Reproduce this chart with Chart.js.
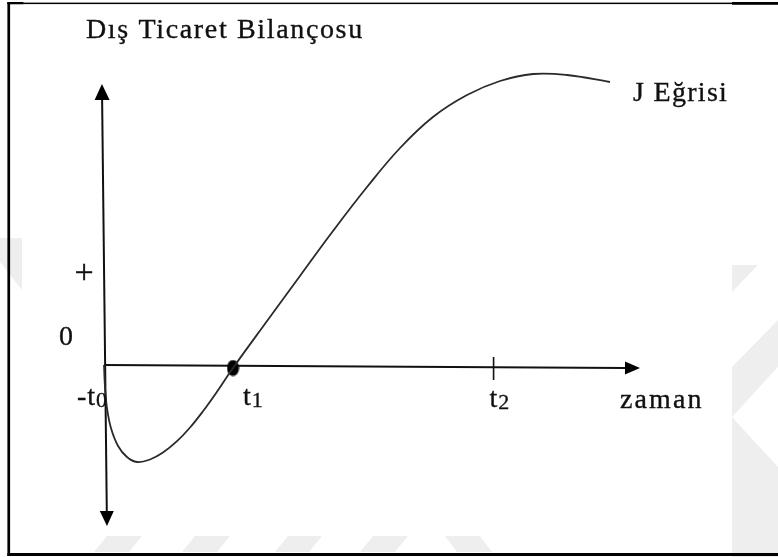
<!DOCTYPE html>
<html><head><meta charset="utf-8">
<script src="https://cdn.jsdelivr.net/npm/chart.js@4"></script>
<style>html,body{margin:0;padding:0;background:#fff;overflow:hidden}canvas{display:block}</style>
</head><body>
<canvas id="c" width="778" height="557"></canvas>
<script>
// ---- data (time units: t1 = 1; balance units arbitrary) ----
const curveX = [0, 0.008, 0.023, 0.054, 0.109, 0.178, 0.256, 0.357, 0.457, 0.566, 0.667, 0.767, 0.868, 1.0, 1.264, 1.519, 1.775, 2.039, 2.295, 2.550, 2.814, 3.070, 3.326, 3.589, 3.922];
const curveY = [0, -0.23, -0.43, -0.63, -0.81, -0.92, -0.97, -0.945, -0.876, -0.762, -0.625, -0.463, -0.282, -0.03, 0.44, 0.89, 1.34, 1.78, 2.17, 2.48, 2.70, 2.84, 2.91, 2.90, 2.83];
const t1Point = [1.0, -0.03];
const t2Value = 3.02;
const yAxisXs = [-0.016, 0.023];      // axis x at top tip, bottom tip
const yAxisTips = [2.81, -1.61];       // top tip, bottom tip
const xAxisEnd = [4.155, -0.03];       // arrow tip of time axis
const tickNames = ['-t', 't', 't'];
const tickSubs = ['0', '1', '2'];
const yTickLabels = ['+', '0'];
const titleText = 'Dış Ticaret Bilançosu';
const curveLabel = 'J Eğrisi';
const xAxisLabel = 'zaman';

// ellipse marker for t1
const dotCanvas = document.createElement('canvas');
dotCanvas.width = 13; dotCanvas.height = 17;
(function(){const g=dotCanvas.getContext('2d');g.fillStyle='#000';g.beginPath();g.ellipse(6.5,8.5,6,8,0,0,Math.PI*2);g.fill();})();

const FONT = '"Liberation Serif", "Times New Roman", serif';

function arrow(ctx, x1, y1, x2, y2, len, hw) {
  const a = Math.atan2(y2 - y1, x2 - x1);
  const bx = x2 - len * Math.cos(a), by = y2 - len * Math.sin(a);
  ctx.beginPath(); ctx.moveTo(x1, y1); ctx.lineTo(bx, by); ctx.stroke();
  ctx.beginPath();
  ctx.moveTo(x2, y2);
  ctx.lineTo(bx + hw * Math.sin(a), by - hw * Math.cos(a));
  ctx.lineTo(bx - hw * Math.sin(a), by + hw * Math.cos(a));
  ctx.closePath(); ctx.fill();
}

function poly(ctx, pts){ctx.beginPath();ctx.moveTo(pts[0][0],pts[0][1]);for(let i=1;i<pts.length;i++)ctx.lineTo(pts[i][0],pts[i][1]);ctx.closePath();ctx.fill();}

const decor = {
  id: 'decor',
  beforeDatasetsDraw(chart) {
    const ctx = chart.ctx, xs = chart.scales.x, ys = chart.scales.y;
    ctx.save();
    // faint watermark
    ctx.fillStyle = '#eeeeee';
    [[107,142,94,129],[195,230,182,217],[288,322,275,309],[373,408,360,395],[445,480,457,492]].forEach(s=>poly(ctx,[[s[0],536],[s[1],536],[s[3],552],[s[2],552]]));
    poly(ctx,[[732,265],[758,265],[732,292]]);
    poly(ctx,[[778,320],[778,367],[732,417],[732,367]]);
    poly(ctx,[[732,417],[778,467],[778,610],[732,560]]);
    poly(ctx,[[0,238],[22,238],[22,290],[0,262]]);
    // frame
    ctx.fillStyle = '#000';
    ctx.fillRect(7.4, 2.5, 2.7, 553.5);
    ctx.fillRect(7.4, 2.6, 725, 1.5);
    ctx.fillRect(7.4, 2, 16, 2.2);
    ctx.fillRect(732, 2, 46, 2.8);
    ctx.fillRect(7.4, 553, 771, 3);
    // axes
    ctx.strokeStyle = '#111'; ctx.fillStyle = '#000'; ctx.lineWidth = 2;
    const ox = xs.getPixelForValue(0), oy = ys.getPixelForValue(0);
    const tx = xs.getPixelForValue(yAxisXs[0]), ty = ys.getPixelForValue(yAxisTips[0]);
    const bx = xs.getPixelForValue(yAxisXs[1]), by = ys.getPixelForValue(yAxisTips[1]);
    const mx = (tx + bx) / 2, my = (ty + by) / 2;
    arrow(ctx, mx, my, tx, ty, 16, 7.5);
    arrow(ctx, mx, my, bx, by, 15, 7);
    arrow(ctx, ox, oy, xs.getPixelForValue(xAxisEnd[0]), ys.getPixelForValue(xAxisEnd[1]), 15, 6.5);
    // t2 tick
    const t2x = xs.getPixelForValue(t2Value);
    ctx.lineWidth = 1.6;
    ctx.beginPath(); ctx.moveTo(t2x, ys.getPixelForValue(0.08)); ctx.lineTo(t2x, ys.getPixelForValue(-0.15)); ctx.stroke();
    ctx.restore();
  },
  afterDatasetsDraw(chart) {
    const ctx = chart.ctx, xs = chart.scales.x, ys = chart.scales.y;
    ctx.save();
    ctx.fillStyle = '#111';
    ctx.strokeStyle = '#111';
    ctx.lineWidth = 0.35;
    ctx.textBaseline = 'alphabetic';
    ctx.textAlign = 'left';
    const setF = (sz, ls) => { ctx.font = sz + 'px ' + FONT; try { ctx.letterSpacing = ls + 'px'; } catch (e) {} };
    const txt = (s, x, y) => { ctx.fillText(s, x, y); ctx.strokeText(s, x, y); };
    setF(28, 1.65);
    txt(titleText, 86, 38);
    setF(28, 1.3);
    txt(curveLabel, 633, 101);
    setF(28, 2.1);
    txt(xAxisLabel, 620, 408);
    setF(34, 0);
    ctx.textAlign = 'center';
    txt(yTickLabels[0], 84, 283);
    ctx.textAlign = 'left';
    setF(28, 0);
    txt(yTickLabels[1], 59, 345);
    // tick labels with subscripts
    const tickXs = [0, t1Point[0], t2Value];
    const offs = [-27, 10, -4];
    const bases = [405, 405, 407];
    for (let i = 0; i < 3; i++) {
      const px = xs.getPixelForValue(tickXs[i]) + offs[i];
      setF(28, 1);
      txt(tickNames[i], px, bases[i]);
      const w = ctx.measureText(tickNames[i]).width;
      setF(22, 0);
      txt(tickSubs[i], px + w, bases[i] + 2);
    }
    ctx.restore();
  }
};

new Chart(document.getElementById('c'), {
  type: 'scatter',
  data: {
    datasets: [
      {
        data: curveX.map((x, i) => ({ x, y: curveY[i] })),
        showLine: true, borderColor: '#2a2a2a', borderWidth: 1.8,
        pointRadius: 0, tension: 0.4, fill: false
      },
      {
        data: [{ x: t1Point[0], y: t1Point[1] }],
        pointStyle: dotCanvas, pointRadius: 7, showLine: false
      }
    ]
  },
  options: {
    responsive: false, animation: false, events: [],
    layout: { padding: 0, autoPadding: false },
    plugins: { legend: { display: false }, tooltip: { enabled: false }, title: { display: false } },
    scales: {
      x: { type: 'linear', display: false, min: -104 / 129, max: 674 / 129 },
      y: { type: 'linear', display: false, min: -1.92, max: 3.65 }
    }
  },
  plugins: [decor]
});
</script>
</body></html>
